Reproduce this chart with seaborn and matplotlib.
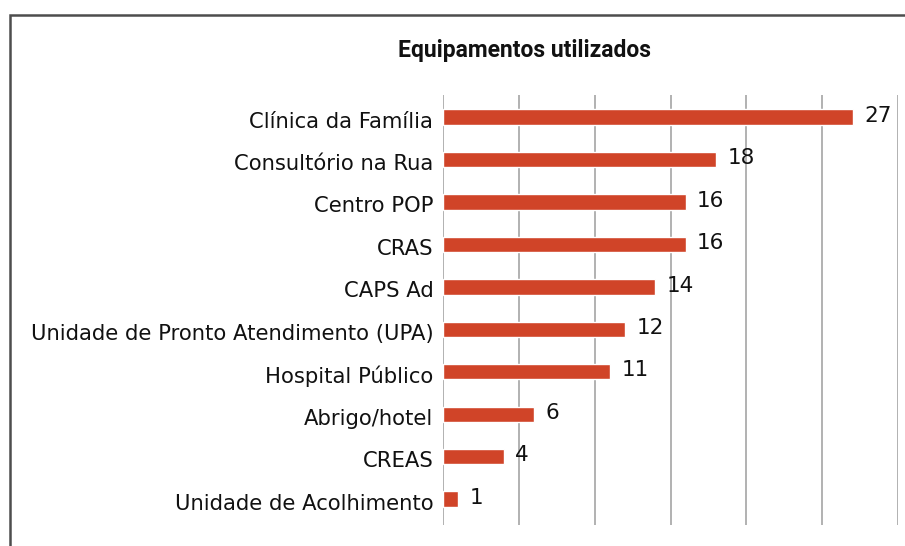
import matplotlib
matplotlib.use("Agg")
import matplotlib.pyplot as plt
import matplotlib.transforms as mtransforms
import seaborn as sns
import pandas as pd
from matplotlib.patches import Rectangle

# ── Data ──────────────────────────────────────────────────────────────────────
categorias = [
    "Clínica da Família",
    "Consultório na Rua",
    "Centro POP",
    "CRAS",
    "CAPS Ad",
    "Unidade de Pronto Atendimento (UPA)",
    "Hospital Público",
    "Abrigo/hotel",
    "CREAS",
    "Unidade de Acolhimento",
]
valores = [27, 18, 16, 16, 14, 12, 11, 6, 4, 1]

df = pd.DataFrame({"equipamento": categorias, "n": valores})

# ── Plot ──────────────────────────────────────────────────────────────────────
sns.set_style("white")
plt.rcParams["font.family"] = ["DejaVu Sans"]

W, H = 905, 546
fig = plt.figure(figsize=(W / 100, H / 100), dpi=100)
ax = fig.add_axes([443 / W, 1 - 525 / H, (898 - 443) / W, (525 - 95) / H])

sns.barplot(data=df, x="n", y="equipamento", color="#D04428",
            width=0.36, saturation=1, ax=ax)

ax.set_xlim(0, 30)
ax.set_ylim(9.61, -0.52)
ax.set_xticks(range(0, 31, 5))
ax.set_xticklabels([])
ax.tick_params(axis="x", length=0)
ax.tick_params(axis="y", length=0, labelsize=15.2, pad=7, labelcolor="#111111")
ax.grid(axis="x", color="#ABABAB", linewidth=1.3)
ax.set_axisbelow(True)
for s in ax.spines.values():
    s.set_visible(False)
ax.set_xlabel("")
ax.set_ylabel("")

# category labels sit a little below the bar centre in the original
shift = mtransforms.ScaledTranslation(0, -2.5 / 100, fig.dpi_scale_trans)
for lbl in ax.get_yticklabels():
    lbl.set_transform(lbl.get_transform() + shift)

for i, v in enumerate(valores):
    ax.text(v + 0.75, i - 0.03, str(v), va="center", ha="left", fontsize=15.5, color="#111111")

fig.text(524 / W, 1 - 50 / H, "Equipamentos utilizados", ha="center", va="center",
         fontsize=16.5, fontweight="bold", color="#111111", family=["Roboto", "DejaVu Sans"])

# outer frame
fig.patches.append(Rectangle((10 / W, -0.1), 1.2, 1 - 15 / H + 0.1, transform=fig.transFigure,
                             fill=False, edgecolor="#4D4D4D", linewidth=1.8))

fig.savefig("out.png", dpi=100)
